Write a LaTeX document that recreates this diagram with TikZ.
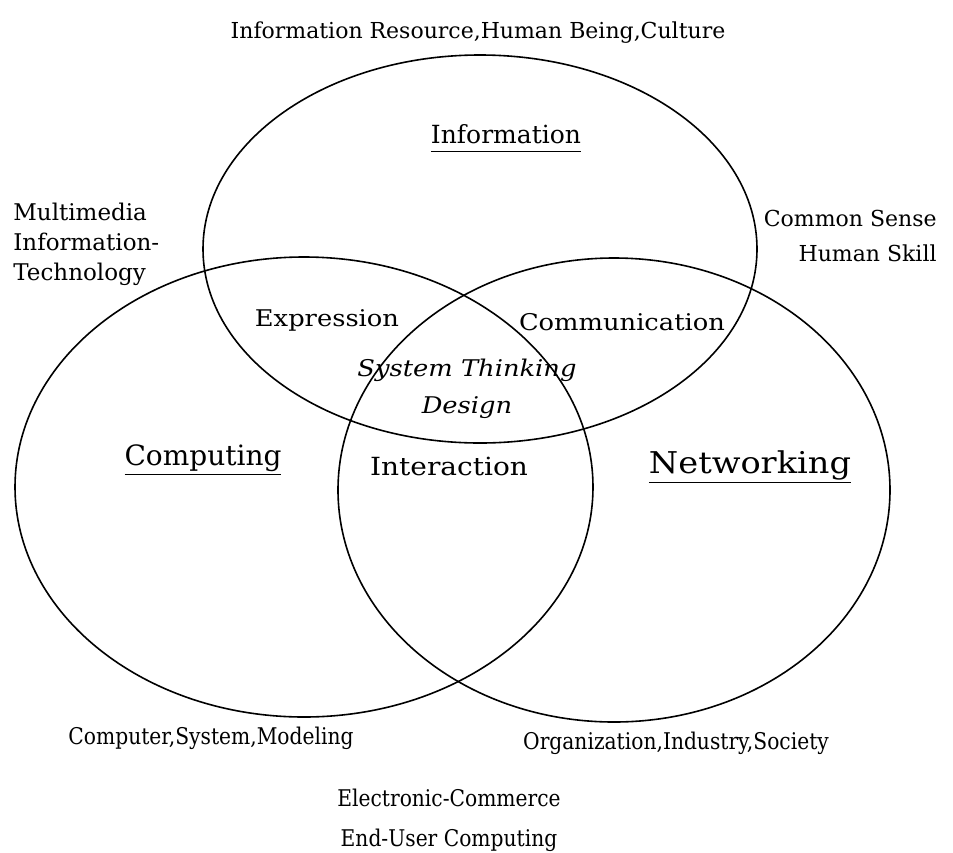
\documentclass[tikz,border=0pt]{standalone}
\usepackage{fontspec}
\setmainfont{DejaVu Serif}
\newfontfamily\wideserif[FakeStretch=1.12]{DejaVu Serif}
\newfontfamily\narrowserif[FakeStretch=0.88]{DejaVu Serif}
\usetikzlibrary{positioning}

\newcommand{\venntext}{\fontsize{11.5}{14}\selectfont}
\newcommand{\fieldname}[1]{\underline{#1\vphantom{g}}}

\tikzset{
  set/.style={draw=black, line width=0.8pt},
  keyword/.style={font=\venntext, inner sep=0pt, anchor=base},
  overlap/.style={keyword, font=\wideserif\venntext},
  field/.style={inner sep=0pt, anchor=base},
  footer/.style={keyword, font=\narrowserif\venntext},
}

\begin{document}
\begin{tikzpicture}[x=0.5pt, y=-0.5pt]
\useasboundingbox (0,0) rectangle (953,852);

% the three sets
\draw[set] (480,249) ellipse [x radius=277, y radius=194];
\draw[set] (304,487) ellipse [x radius=289, y radius=230];
\draw[set] (614,490) ellipse [x radius=276, y radius=232];

% set names
\node[field, font=\fontsize{12.5}{15}\selectfont] (information) at (506,143)
  {\fieldname{Information}};
\node[field, font=\fontsize{14}{17}\selectfont] (computing) at (203,465)
  {\fieldname{Computing}};
\node[field, font=\wideserif\fontsize{15}{18}\selectfont] (networking) at (750,473)
  {\fieldname{Networking}};

% overlaps
\node[overlap] (expression) at (327,326) {Expression};
\node[overlap] (communication) at (622,330) {Communication};
\node[overlap, font=\wideserif\fontsize{12.5}{15}\selectfont] (interaction) at (449,475)
  {Interaction};
\node[overlap, align=center, font=\wideserif\venntext\itshape] (design) at (467,413)
  {System Thinking\\[4.5pt] Design};

% outside
\node[keyword, font=\fontsize{11}{13}\selectfont] (culture) at (478,38)
  {Information Resource,Human Being,Culture};
\node[keyword, align=left, anchor=base west] (multimedia) at (13,280)
  {Multimedia\\[1pt] Information-\\[1pt] Technology};
\node[keyword, align=right, anchor=base east, font=\fontsize{11}{14}\selectfont] (skill)
  at (937,261) {Common Sense\\[3.5pt] Human Skill};
\node[footer] (modeling) at (211,744) {Computer,System,Modeling};
\node[footer] (society) at (676,749) {Organization,Industry,Society};
\node[footer, align=center] (commerce) at (449,846)
  {Electronic-Commerce\\[6pt] End-User Computing};

\end{tikzpicture}
\end{document}
